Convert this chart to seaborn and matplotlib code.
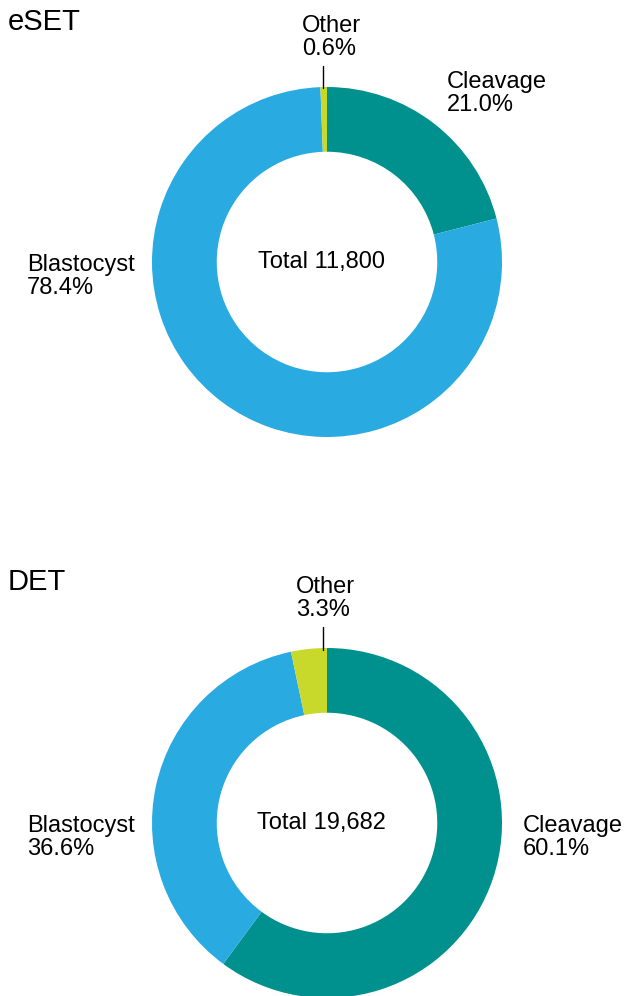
import matplotlib
matplotlib.use("Agg")
import matplotlib.pyplot as plt
import seaborn as sns

categories = ["Cleavage", "Blastocyst", "Other"]
eset_pct = [21.0, 78.4, 0.6]
det_pct = [60.1, 36.6, 3.3]
eset_total = "11,800"
det_total = "19,682"
colors = ["#00918E", "#29AAE1", "#C9D92C"]

sns.set_theme(style="white")
plt.rcParams["font.family"] = ["Liberation Sans", "DejaVu Sans"]
plt.rcParams["text.color"] = "black"

W, H = 624, 996
fig = plt.figure(figsize=(W / 100, H / 100), dpi=100)


def fx(px):
    return px / W


def fy(py):
    return 1 - py / H


def donut(cy, values, total):
    # axes covering the ring, centred at (327, cy) px, radius 175 px
    ax = fig.add_axes([fx(152), fy(cy + 175), fx(350), 350 / H])
    ax.pie(values, colors=colors, startangle=90, counterclock=False,
           radius=1, wedgeprops=dict(width=0.37, linewidth=0))
    ax.set_xlim(-1, 1)
    ax.set_ylim(-1, 1)
    ax.set_aspect("equal")
    ax.axis("off")
    ax.text(-0.03, 0, f"Total {total}", ha="center", va="center", fontsize=17)
    return ax


def label(x, y, txt):
    fig.text(fx(x), fy(y), txt, ha="left", va="top", fontsize=17, linespacing=1.05)


# eSET
donut(262, eset_pct, eset_total)
fig.text(fx(8), fy(8), "eSET", ha="left", va="top", fontsize=21)
label(302, 15, f"Other\n{eset_pct[2]:.1f}%")
label(447, 71, f"Cleavage\n{eset_pct[0]:.1f}%")
label(27, 254, f"Blastocyst\n{eset_pct[1]:.1f}%")
fig.add_artist(plt.Line2D([fx(323), fx(323)], [fy(66), fy(88)], color="black", lw=1))

# DET
donut(823, det_pct, det_total)
fig.text(fx(8), fy(568), "DET", ha="left", va="top", fontsize=21)
label(296, 576, f"Other\n{det_pct[2]:.1f}%")
label(523, 815, f"Cleavage\n{det_pct[0]:.1f}%")
label(27, 815, f"Blastocyst\n{det_pct[1]:.1f}%")
fig.add_artist(plt.Line2D([fx(323), fx(323)], [fy(627), fy(650)], color="black", lw=1))

fig.savefig("out.png", dpi=100)
